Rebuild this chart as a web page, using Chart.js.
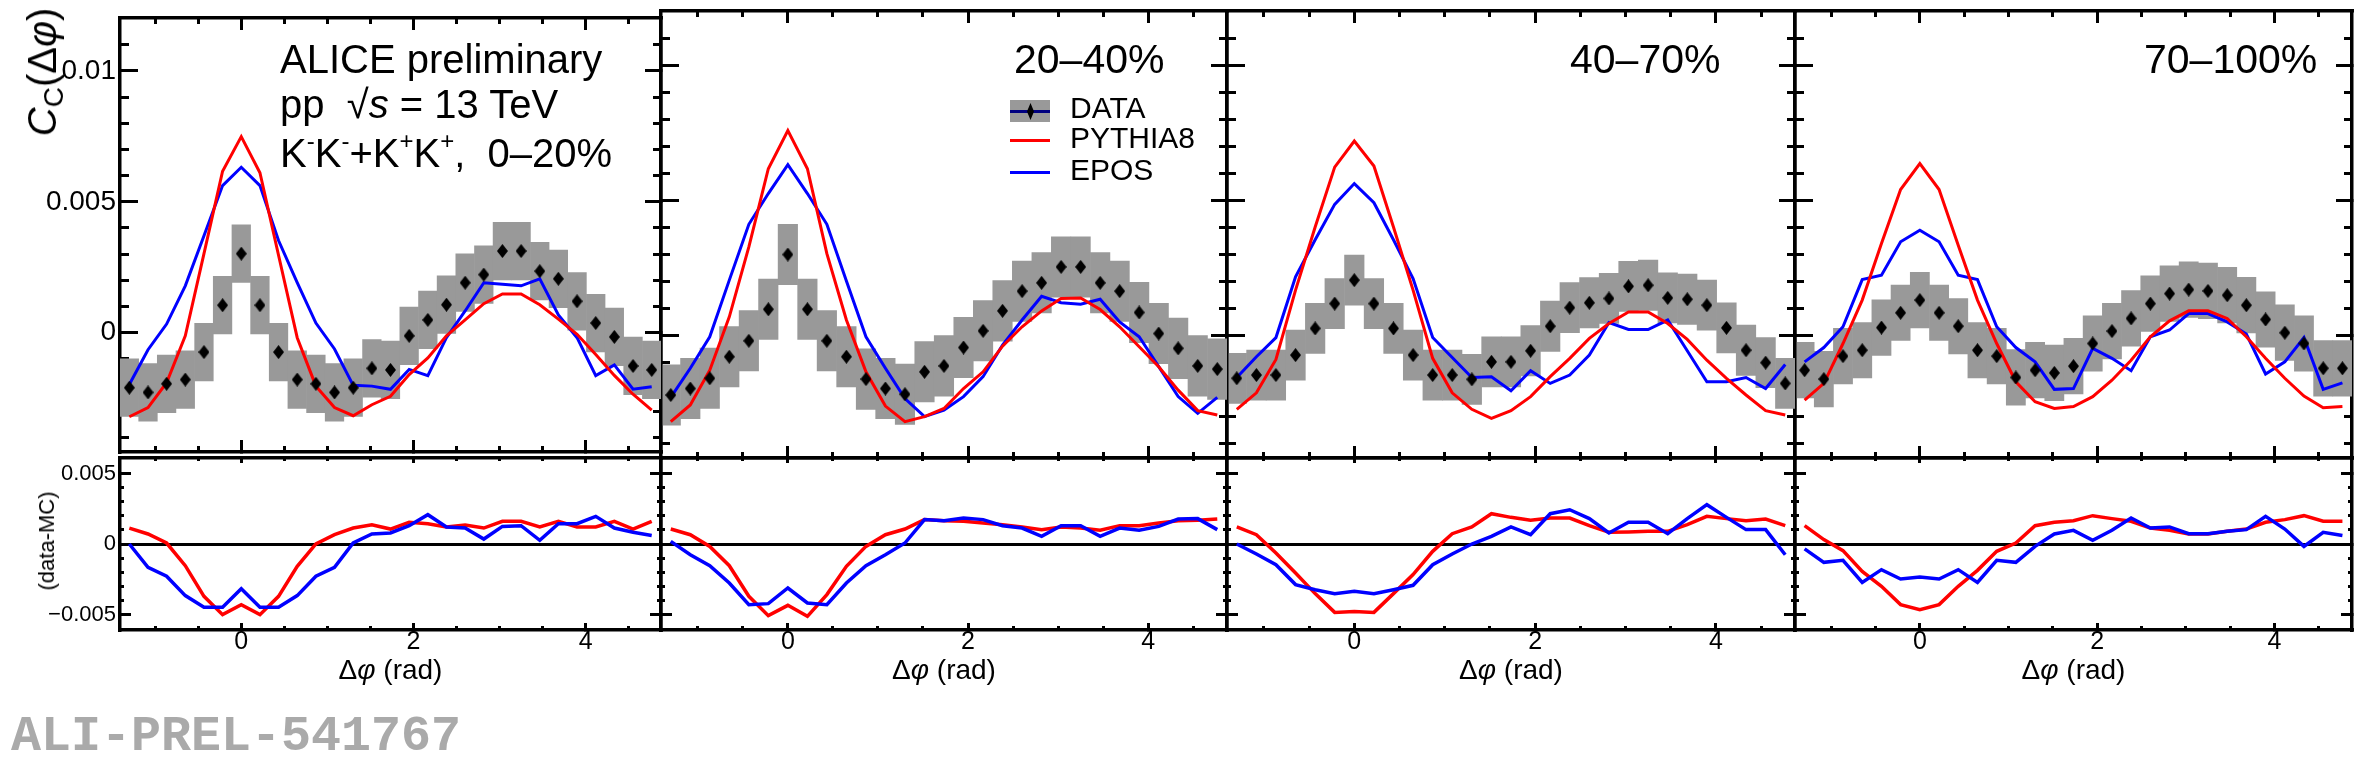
<!DOCTYPE html>
<html>
<head>
<meta charset="utf-8">
<title>K-K- + K+K+ correlations, ALICE preliminary</title>
<script src="https://cdn.jsdelivr.net/npm/chart.js@4.4.0/dist/chart.umd.min.js"></script>
<style>
  html, body { margin: 0; padding: 0; background: #fff; }
  #page { position: relative; width: 2363px; height: 763px; overflow: hidden;
          font-family: 'Liberation Sans', Arial, Helvetica, sans-serif; color: #000; }
  .pad { position: absolute; }
  .txt { position: absolute; white-space: nowrap; line-height: 1; z-index: 2; }
  .rot { position: absolute; white-space: nowrap; line-height: 1; z-index: 2;
         transform: translate(-50%, -50%) rotate(-90deg); }
  .mk { position: absolute; z-index: 2; }
  sub { font-size: 0.7em; vertical-align: -0.25em; font-style: normal; }
  sup { font-size: 0.6em; vertical-align: 0.75em; }
</style>
</head>
<body>
<div id="page">
  <!-- axis titles -->
  <div class="rot" style="left:45px;top:72px;font-size:40px;"><i>C</i><sub>C</sub>(&Delta;<i>&phi;</i>)</div>
  <div class="rot" style="left:47px;top:541px;font-size:22px;">(data-MC)</div>
  <div id="xtitles"></div>

  <!-- panel 1 text -->
  <div class="txt" style="left:280px;top:39px;font-size:40px;">ALICE preliminary</div>
  <div class="txt" style="left:280px;top:84px;font-size:40px;">pp &nbsp;&radic;<i>s</i> = 13 TeV</div>
  <div class="txt" style="left:280px;top:129px;font-size:40px;">K<sup>-</sup>K<sup>-</sup>+K<sup>+</sup>K<sup>+</sup>,&nbsp; <span id="cent0"></span></div>
  <div id="centlabels"></div>

  <!-- legend -->
  <div class="mk" style="left:1010px;top:100px;width:40px;height:22px;background:#999999;"></div>
  <div class="mk" style="left:1010px;top:110px;width:40px;height:3px;background:#000080;"></div>
  <div class="mk" style="left:1027px;top:103px;width:7px;height:17px;background:#000;clip-path:polygon(50% 0,100% 50%,50% 100%,0 50%);"></div>
  <div class="mk" style="left:1010px;top:138.5px;width:40px;height:3px;background:#ff0000;"></div>
  <div class="mk" style="left:1010px;top:171px;width:40px;height:3px;background:#0000ff;"></div>
  <div class="txt" style="left:1070px;top:93px;font-size:30px;">DATA</div>
  <div class="txt" style="left:1070px;top:123px;font-size:30px;">PYTHIA8</div>
  <div class="txt" style="left:1070px;top:154.5px;font-size:30px;">EPOS</div>

  <div class="txt" style="left:11px;top:712px;font-size:50px;font-family:'Liberation Mono','DejaVu Sans Mono',monospace;font-weight:bold;color:#aaaaaa;">ALI-PREL-541767</div>
</div>

<script>
// ---- data ----
const centralities = ['0–20%', '20–40%', '40–70%', '70–100%'];

// bin centres in delta-phi (rad)
const dphi = [-1.300, -1.083, -0.867, -0.650, -0.433, -0.217, 0.000, 0.217, 0.433, 0.650,
              0.867, 1.083, 1.300, 1.517, 1.733, 1.950, 2.167, 2.383, 2.600, 2.817,
              3.033, 3.250, 3.467, 3.683, 3.900, 4.117, 4.333, 4.550, 4.767];

const xMajorTicks = [0, 2, 4];
const xMinorTicks = [-1, -0.5, 0.5, 1, 1.5, 2.5, 3, 3.5, 4.5];
const upperMajorTicks = [0, 0.005, 0.01];
const upperMinorTicks = [-0.004, -0.003, -0.002, -0.001, 0.001, 0.002, 0.003, 0.004,
                         0.006, 0.007, 0.008, 0.009, 0.011];
const lowerMajorTicks = [-0.005, 0, 0.005];
const lowerMinorTicks = [-0.004, -0.003, -0.002, -0.001, 0.001, 0.002, 0.003, 0.004];

// C_C(dphi), data
const data_0_20 = [-0.00210,-0.00228,-0.00195,-0.00179,-0.00074,0.00105,0.00302,0.00105,-0.00074,-0.00179,-0.00195,-0.00228,-0.00210,-0.00136,-0.00142,-0.00012,0.00049,0.00107,0.00191,0.00222,0.00312,0.00312,0.00235,0.00206,0.00120,0.00037,-0.00016,-0.00127,-0.00142];
const data_20_40 = [-0.00222,-0.00198,-0.00160,-0.00080,-0.00021,0.00096,0.00299,0.00096,-0.00021,-0.00080,-0.00163,-0.00198,-0.00219,-0.00136,-0.00114,-0.00046,0.00016,0.00090,0.00163,0.00194,0.00253,0.00253,0.00194,0.00163,0.00084,0.00006,-0.00049,-0.00114,-0.00126];
const data_40_70 = [-0.00160,-0.00148,-0.00148,-0.00074,0.00025,0.00117,0.00204,0.00117,0.00025,-0.00074,-0.00148,-0.00148,-0.00164,-0.00099,-0.00099,-0.00058,0.00033,0.00102,0.00120,0.00136,0.00181,0.00185,0.00138,0.00133,0.00111,0.00027,-0.00056,-0.00102,-0.00179];
const data_70_100 = [-0.00130,-0.00163,-0.00078,-0.00056,0.00028,0.00083,0.00130,0.00083,0.00033,-0.00056,-0.00078,-0.00157,-0.00130,-0.00140,-0.00115,-0.00031,0.00015,0.00062,0.00117,0.00154,0.00169,0.00164,0.00148,0.00111,0.00058,0.00009,-0.00031,-0.00123,-0.00123];

// systematic box half height per panel
const systHalf = [0.00110, 0.00112, 0.00093, 0.00103];

// PYTHIA8
const py_0_20 = [-0.00321,-0.00286,-0.00191,-0.00012,0.00302,0.00617,0.00749,0.00611,0.00296,-0.00019,-0.00204,-0.00286,-0.00317,-0.00275,-0.00243,-0.00160,-0.00096,-0.00012,0.00049,0.00111,0.00148,0.00148,0.00107,0.00052,-0.00006,-0.00083,-0.00163,-0.00235,-0.00296];
const py_20_40 = [-0.00321,-0.00259,-0.00130,0.00068,0.00327,0.00617,0.00759,0.00617,0.00302,0.00056,-0.00136,-0.00263,-0.00321,-0.00302,-0.00272,-0.00198,-0.00136,-0.00041,0.00031,0.00090,0.00136,0.00138,0.00095,0.00031,-0.00043,-0.00117,-0.00204,-0.00280,-0.00296];
const py_40_70 = [-0.00275,-0.00214,-0.00090,0.00167,0.00401,0.00623,0.00720,0.00627,0.00401,0.00167,-0.00086,-0.00214,-0.00275,-0.00309,-0.00280,-0.00228,-0.00154,-0.00086,-0.00012,0.00043,0.00086,0.00086,0.00043,-0.00016,-0.00093,-0.00160,-0.00222,-0.00280,-0.00296];
const py_70_100 = [-0.00241,-0.00179,-0.00031,0.00130,0.00340,0.00540,0.00636,0.00540,0.00333,0.00130,-0.00031,-0.00173,-0.00247,-0.00272,-0.00265,-0.00228,-0.00167,-0.00093,-0.00006,0.00053,0.00090,0.00090,0.00062,-0.00006,-0.00086,-0.00160,-0.00226,-0.00269,-0.00265];

// EPOS
const epos_0_20 = [-0.00198,-0.00065,0.00033,0.00179,0.00370,0.00562,0.00632,0.00562,0.00352,0.00191,0.00037,-0.00062,-0.00201,-0.00204,-0.00216,-0.00140,-0.00164,-0.00019,0.00083,0.00191,0.00185,0.00179,0.00206,0.00068,-0.00019,-0.00164,-0.00123,-0.00216,-0.00206];
const epos_20_40 = [-0.00231,-0.00123,-0.00006,0.00204,0.00411,0.00525,0.00632,0.00525,0.00411,0.00201,-0.00006,-0.00123,-0.00235,-0.00302,-0.00278,-0.00228,-0.00154,-0.00037,0.00056,0.00144,0.00120,0.00115,0.00133,0.00049,-0.00006,-0.00117,-0.00228,-0.00290,-0.00231];
const epos_40_70 = [-0.00157,-0.00080,-0.00009,0.00216,0.00354,0.00485,0.00562,0.00491,0.00354,0.00210,-0.00009,-0.00083,-0.00157,-0.00154,-0.00206,-0.00132,-0.00179,-0.00148,-0.00074,0.00047,0.00021,0.00021,0.00056,-0.00058,-0.00173,-0.00173,-0.00157,-0.00198,-0.00109];
const epos_70_100 = [-0.00099,-0.00046,0.00031,0.00206,0.00222,0.00346,0.00389,0.00346,0.00222,0.00206,0.00031,-0.00046,-0.00099,-0.00201,-0.00198,-0.00049,-0.00086,-0.00132,-0.00006,0.00019,0.00080,0.00080,0.00049,0.00004,-0.00144,-0.00099,-0.00009,-0.00201,-0.00177];

// data - MC (lower pads)
const dpy_0_20 = [0.00113,0.00071,0.00007,-0.00154,-0.00371,-0.00501,-0.00430,-0.00501,-0.00371,-0.00158,0.00000,0.00066,0.00113,0.00137,0.00106,0.00154,0.00144,0.00121,0.00135,0.00113,0.00161,0.00161,0.00121,0.00161,0.00121,0.00121,0.00161,0.00106,0.00161];
const dpy_20_40 = [0.00106,0.00066,-0.00017,-0.00154,-0.00371,-0.00508,-0.00435,-0.00513,-0.00359,-0.00158,-0.00017,0.00066,0.00106,0.00173,0.00165,0.00161,0.00149,0.00137,0.00121,0.00102,0.00121,0.00113,0.00097,0.00130,0.00130,0.00149,0.00165,0.00168,0.00177];
const dpy_40_70 = [0.00121,0.00066,-0.00064,-0.00206,-0.00352,-0.00485,-0.00478,-0.00485,-0.00352,-0.00217,-0.00052,0.00073,0.00121,0.00215,0.00189,0.00168,0.00184,0.00184,0.00130,0.00083,0.00085,0.00090,0.00090,0.00137,0.00196,0.00180,0.00165,0.00177,0.00130];
const dpy_70_100 = [0.00130,0.00031,-0.00047,-0.00194,-0.00300,-0.00430,-0.00466,-0.00430,-0.00300,-0.00187,-0.00052,0.00007,0.00130,0.00154,0.00165,0.00201,0.00180,0.00161,0.00113,0.00097,0.00071,0.00071,0.00090,0.00106,0.00154,0.00173,0.00201,0.00161,0.00161];

const depos_0_20 = [0.00000,-0.00165,-0.00229,-0.00366,-0.00449,-0.00449,-0.00317,-0.00449,-0.00449,-0.00366,-0.00229,-0.00165,0.00007,0.00071,0.00078,0.00130,0.00208,0.00121,0.00113,0.00035,0.00125,0.00130,0.00026,0.00144,0.00144,0.00196,0.00113,0.00083,0.00061];
const depos_20_40 = [0.00019,-0.00076,-0.00154,-0.00277,-0.00430,-0.00423,-0.00312,-0.00418,-0.00430,-0.00277,-0.00154,-0.00076,0.00007,0.00173,0.00165,0.00184,0.00173,0.00130,0.00113,0.00054,0.00130,0.00130,0.00054,0.00113,0.00097,0.00125,0.00177,0.00180,0.00102];
const depos_40_70 = [0.00000,-0.00071,-0.00147,-0.00288,-0.00324,-0.00352,-0.00336,-0.00352,-0.00324,-0.00293,-0.00147,-0.00071,0.00000,0.00054,0.00121,0.00066,0.00215,0.00243,0.00180,0.00078,0.00154,0.00154,0.00073,0.00180,0.00279,0.00189,0.00102,0.00102,-0.00076];
const depos_70_100 = [-0.00035,-0.00130,-0.00116,-0.00272,-0.00182,-0.00248,-0.00234,-0.00248,-0.00182,-0.00272,-0.00116,-0.00130,-0.00017,0.00071,0.00097,0.00026,0.00097,0.00184,0.00113,0.00121,0.00073,0.00073,0.00090,0.00102,0.00196,0.00106,-0.00017,0.00083,0.00061];

const dataSets = [data_0_20, data_20_40, data_40_70, data_70_100];
const pySets = [py_0_20, py_20_40, py_40_70, py_70_100];
const eposSets = [epos_0_20, epos_20_40, epos_40_70, epos_70_100];
const dpySets = [dpy_0_20, dpy_20_40, dpy_40_70, dpy_70_100];
const deposSets = [depos_0_20, depos_20_40, depos_40_70, depos_70_100];

// ---- layout ----
const panelX = [120, 661, 1227, 1795, 2352];
const xRange = [-1.4083, 4.8749];
const upperRange = [-0.004556, 0.01202];
const lowerRange = [-0.0061, 0.0061];

Chart.defaults.font.family = "'Liberation Sans', Arial, Helvetica, sans-serif";
Chart.defaults.color = '#000';

const page = document.getElementById('page');

document.getElementById('cent0').textContent = centralities[0];
const centLeft = [0, 1014, 1570, 2144];
for (let p = 1; p < 4; p++) {
  const d = document.createElement('div');
  d.className = 'txt';
  d.style.cssText = 'left:' + centLeft[p] + 'px;top:38.5px;font-size:41px;';
  d.textContent = centralities[p];
  page.appendChild(d);
}
for (let p = 0; p < 4; p++) {
  const d = document.createElement('div');
  d.className = 'txt';
  d.style.cssText = 'left:' + ((panelX[p] + panelX[p + 1]) / 2) + 'px;top:656px;font-size:28px;transform:translateX(-50%);';
  d.innerHTML = '&Delta;<i>&phi;</i> (rad)';
  page.appendChild(d);
}

// diamond marker
const diamond = document.createElement('canvas');
diamond.width = 11; diamond.height = 14;
(function () {
  const g = diamond.getContext('2d');
  g.fillStyle = '#000';
  g.beginPath();
  g.moveTo(5.5, 0); g.lineTo(11, 7); g.lineTo(5.5, 14); g.lineTo(0, 7);
  g.closePath(); g.fill();
})();

function fmtY(v) {
  if (Math.abs(v) < 1e-12) return '0';
  const s = String(Math.abs(+v.toFixed(4)));
  return (v < 0 ? '\u2212' : '') + s;
}
function fmtX(v) { return String(v); }

function tickAxis(pos, range, values, len, weight, border, zeroLine) {
  return {
    type: 'linear', position: pos, min: range[0], max: range[1], weight: weight,
    offset: false, bounds: 'data', z: 1,
    afterBuildTicks: s => { s.ticks = values.map(v => ({ value: v })); },
    afterFit: s => { if (pos === 'top' || pos === 'bottom') s.height = 0; else s.width = 0; },
    ticks: { display: false, autoSkip: false },
    grid: {
      display: true, drawOnChartArea: !!zeroLine, drawTicks: true, tickLength: -len,
      tickWidth: 3, tickColor: '#000', lineWidth: 3,
      color: c => (zeroLine && c.tick && Math.abs(c.tick.value) < 1e-12) ? '#000' : 'rgba(0,0,0,0)'
    },
    border: { display: border, width: 3.5, color: '#000' }
  };
}

function labelAxis(pos, range, values, size, show, fontSize, fmt) {
  return {
    type: 'linear', position: pos, min: range[0], max: range[1], weight: 2,
    offset: false, bounds: 'data',
    afterBuildTicks: s => { s.ticks = values.map(v => ({ value: v })); },
    afterFit: s => { if (pos === 'bottom') s.height = size; else s.width = size; },
    ticks: {
      display: show, autoSkip: false, maxRotation: 0, minRotation: 0,
      padding: pos === 'bottom' ? 0 : 4,
      font: { size: fontSize, lineHeight: 1 }, color: '#000',
      callback: v => fmt(v)
    },
    grid: { display: false, drawTicks: false },
    border: { display: false }
  };
}

function pts(arr) { return dphi.map((x, i) => ({ x: x, y: arr[i] })); }

function addChart(left, top, width, height, padding, datasets, scales) {
  const div = document.createElement('div');
  div.className = 'pad';
  div.style.left = left + 'px'; div.style.top = top + 'px';
  div.style.width = width + 'px'; div.style.height = height + 'px';
  const cv = document.createElement('canvas');
  div.appendChild(cv);
  page.insertBefore(div, page.firstChild);
  return new Chart(cv, {
    type: 'line',
    data: { datasets: datasets },
    options: {
      responsive: true, maintainAspectRatio: false, animation: false, events: [],
      layout: { padding: padding },
      plugins: { legend: { display: false }, tooltip: { enabled: false } },
      scales: scales
    }
  });
}

for (let p = 0; p < 4; p++) {
  const L = panelX[p], R = panelX[p + 1];
  const lw = p === 0 ? 120 : 10;
  const vals = dataSets[p];
  const s = systHalf[p];

  // upper pad
  addChart(L - lw, 0, R - L + lw + 10, 470, { left: 0, right: 10, top: 11, bottom: 12 }, [
    { type: 'line', label: 'DATA', data: pts(vals), xAxisID: 'x', yAxisID: 'y',
      showLine: false, pointStyle: diamond, pointRadius: 5, order: 0 },
    { type: 'line', label: 'PYTHIA8', data: pts(pySets[p]), xAxisID: 'x', yAxisID: 'y',
      borderColor: '#ff0000', borderWidth: 3, pointRadius: 0, tension: 0, fill: false, order: 1 },
    { type: 'line', label: 'EPOS', data: pts(eposSets[p]), xAxisID: 'x', yAxisID: 'y',
      borderColor: '#0000ff', borderWidth: 3, pointRadius: 0, tension: 0, fill: false, order: 2 },
    { type: 'bar', label: 'syst', xAxisID: 'x', yAxisID: 'y',
      data: dphi.map((x, i) => ({ x: x, y: [vals[i] - s, vals[i] + s] })),
      backgroundColor: '#999999', borderWidth: 0, barPercentage: 1, categoryPercentage: 1, order: 3 }
  ], {
    x: labelAxis('bottom', xRange, xMajorTicks, 0, false, 25, fmtX),
    xM: tickAxis('bottom', xRange, xMajorTicks, 12, 1, true),
    xm: tickAxis('bottom', xRange, xMinorTicks, 6, 0, false),
    xtM: tickAxis('top', xRange, xMajorTicks, 12, 1, true),
    xtm: tickAxis('top', xRange, xMinorTicks, 6, 0, false),
    y: labelAxis('left', upperRange, upperMajorTicks, lw, p === 0, 28, fmtY),
    yM: tickAxis('left', upperRange, upperMajorTicks, 18, 1, true),
    ym: tickAxis('left', upperRange, upperMinorTicks, 9, 0, false),
    yrM: tickAxis('right', upperRange, upperMajorTicks, 16, 1, true),
    yrm: tickAxis('right', upperRange, upperMinorTicks, 8, 0, false)
  });

  // lower pad
  addChart(L - lw, 440, R - L + lw + 10, 323, { left: 0, right: 10, top: 18, bottom: 93 }, [
    { type: 'line', label: 'data-PYTHIA8', data: pts(dpySets[p]), xAxisID: 'x', yAxisID: 'y',
      borderColor: '#ff0000', borderWidth: 3.5, pointRadius: 0, tension: 0, fill: false, order: 1 },
    { type: 'line', label: 'data-EPOS', data: pts(deposSets[p]), xAxisID: 'x', yAxisID: 'y',
      borderColor: '#0000ff', borderWidth: 3.5, pointRadius: 0, tension: 0, fill: false, order: 0 }
  ], {
    x: labelAxis('bottom', xRange, xMajorTicks, 40, true, 25, fmtX),
    xM: tickAxis('bottom', xRange, xMajorTicks, 7, 1, true),
    xm: tickAxis('bottom', xRange, xMinorTicks, 4, 0, false),
    xtM: tickAxis('top', xRange, xMajorTicks, 5, 1, true),
    xtm: tickAxis('top', xRange, xMinorTicks, 3, 0, false),
    y: labelAxis('left', lowerRange, lowerMajorTicks, lw, p === 0, 22, fmtY),
    yM: tickAxis('left', lowerRange, lowerMajorTicks, 11, 1, true, true),
    ym: tickAxis('left', lowerRange, lowerMinorTicks, 4, 0, false),
    yrM: tickAxis('right', lowerRange, lowerMajorTicks, 11, 1, true),
    yrm: tickAxis('right', lowerRange, lowerMinorTicks, 4, 0, false)
  });
}
</script>
</body>
</html>
